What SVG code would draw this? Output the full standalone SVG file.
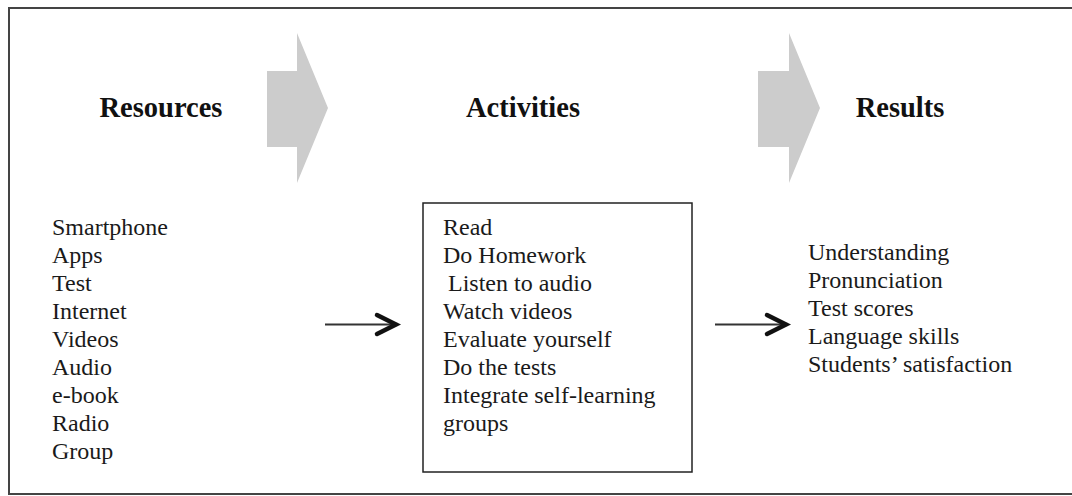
<svg xmlns="http://www.w3.org/2000/svg" width="1072" height="496" viewBox="0 0 1072 496">
<defs>
<style>
.hd{font-family:"Liberation Serif","Times New Roman",serif;font-weight:bold;font-size:28.5px;fill:#111}
.tx{font-family:"Liberation Serif","Times New Roman",serif;font-size:24px;fill:#1a1a1a}
.big{fill:#cccccc}
.ln{stroke:#333;stroke-width:2;fill:none}
.hdk{stroke:#111;stroke-width:4.5;fill:none;stroke-linecap:round;stroke-linejoin:miter}
</style>
</defs>
<rect x="0" y="0" width="1072" height="496" fill="#fff"/>
<rect x="9" y="8" width="1090" height="486" fill="none" stroke="#444" stroke-width="2"/>
<g id="bigarrow1"><polygon class="big" points="267,71 297,71 297,33 328,108 297,183 297,147 267,147"/></g>
<g id="bigarrow2"><polygon class="big" points="758,71 789,71 789,33 820,108 789,183 789,147 758,147"/></g>
<g id="resources">
<text class="hd" x="161" y="117" text-anchor="middle">Resources</text>
<text class="tx" x="52" y="235">Smartphone</text>
<text class="tx" x="52" y="263">Apps</text>
<text class="tx" x="52" y="291">Test</text>
<text class="tx" x="52" y="319">Internet</text>
<text class="tx" x="52" y="347">Videos</text>
<text class="tx" x="52" y="375">Audio</text>
<text class="tx" x="52" y="403">e-book</text>
<text class="tx" x="52" y="431">Radio</text>
<text class="tx" x="52" y="459">Group</text>
</g>
<g id="activities">
<text class="hd" x="523" y="117" text-anchor="middle">Activities</text>
<rect x="423" y="203" width="269" height="269" fill="none" stroke="#222" stroke-width="1.5"/>
<text class="tx" x="443" y="235">Read</text>
<text class="tx" x="443" y="263">Do Homework</text>
<text class="tx" x="448" y="291">Listen to audio</text>
<text class="tx" x="443" y="319">Watch videos</text>
<text class="tx" x="443" y="347">Evaluate yourself</text>
<text class="tx" x="443" y="375">Do the tests</text>
<text class="tx" x="443" y="403">Integrate self-learning</text>
<text class="tx" x="443" y="431">groups</text>
</g>
<g id="results">
<text class="hd" x="900" y="117" text-anchor="middle">Results</text>
<text class="tx" x="808" y="260">Understanding</text>
<text class="tx" x="808" y="288">Pronunciation</text>
<text class="tx" x="808" y="316">Test scores</text>
<text class="tx" x="808" y="344">Language skills</text>
<text class="tx" x="808" y="372">Students’ satisfaction</text>
</g>
<g id="connectors">
<line class="ln" x1="325" y1="324.5" x2="394" y2="324.5"/>
<polyline class="hdk" points="377,315 396,324.5 377,334"/>
<line class="ln" x1="715" y1="324.5" x2="784" y2="324.5"/>
<polyline class="hdk" points="767,315 786,324.5 767,334"/>
</g>
</svg>
